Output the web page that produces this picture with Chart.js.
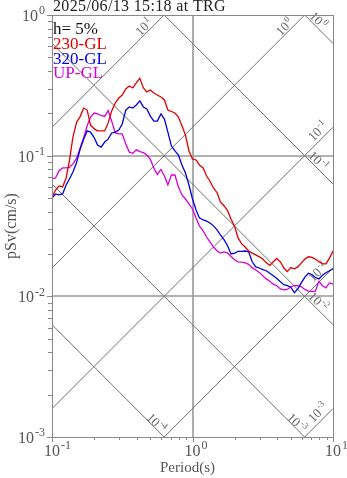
<!DOCTYPE html>
<html>
<head>
<meta charset="utf-8">
<script src="https://cdn.jsdelivr.net/npm/chart.js@4.4.0/dist/chart.umd.min.js"></script>
<style>
  html, body { margin: 0; padding: 0; background: #fff; }
</style>
</head>
<body>
<canvas id="myChart" width="347" height="478"></canvas>
<script>
var titulo = '2025/06/13 15:18 at TRG';
var amortiguamiento = 'h= 5%';
var componentes = ['230-GL', '320-GL', 'UP-GL'];

// periodos (s)
var periods = [0.1, 0.106, 0.112, 0.119, 0.126, 0.133, 0.141, 0.15, 0.158, 0.168,
    0.178, 0.188, 0.2, 0.211, 0.224, 0.237, 0.251, 0.266, 0.282, 0.299,
    0.316, 0.335, 0.355, 0.376, 0.398, 0.422, 0.447, 0.473, 0.501, 0.531,
    0.562, 0.596, 0.631, 0.668, 0.708, 0.75, 0.794, 0.841, 0.891, 0.944,
    1.0, 1.06, 1.12, 1.19, 1.26, 1.33, 1.41, 1.5, 1.58, 1.68,
    1.78, 1.88, 2.0, 2.11, 2.24, 2.37, 2.51, 2.66, 2.82, 2.99,
    3.16, 3.35, 3.55, 3.76, 3.98, 4.22, 4.47, 4.73, 5.01, 5.31,
    5.62, 5.96, 6.31, 6.68, 7.08, 7.5, 7.94, 8.41, 8.91, 9.44, 10];

// pSv (cm/s)
var sv230 = [0.0506, 0.0570, 0.0609, 0.0599, 0.0694, 0.0917, 0.136, 0.174, 0.188, 0.218,
    0.211, 0.165, 0.155, 0.150, 0.150, 0.150, 0.171, 0.208, 0.237, 0.257,
    0.270, 0.298, 0.313, 0.303, 0.329, 0.355, 0.303, 0.284, 0.293, 0.279,
    0.270, 0.261, 0.249, 0.211, 0.206, 0.201, 0.188, 0.163, 0.140, 0.108,
    0.0947, 0.0932, 0.0859, 0.0818, 0.0717, 0.0661, 0.0589, 0.0543, 0.0469, 0.0439,
    0.0405, 0.0355, 0.0311, 0.0260, 0.0236, 0.0224, 0.0210, 0.0203, 0.0197, 0.0191,
    0.0184, 0.0173, 0.0166, 0.0176, 0.0186, 0.0176, 0.0159, 0.0150, 0.0160, 0.0157,
    0.0162, 0.0173, 0.0184, 0.0191, 0.0189, 0.0184, 0.0176, 0.0171, 0.0170, 0.0187, 0.0210];

var sv320 = [0.0500, 0.0534, 0.0526, 0.0534, 0.0619, 0.0683, 0.0766, 0.0902, 0.110, 0.131,
    0.150, 0.147, 0.134, 0.119, 0.115, 0.125, 0.131, 0.145, 0.147, 0.152,
    0.168, 0.211, 0.222, 0.218, 0.229, 0.245, 0.222, 0.215, 0.191, 0.176,
    0.176, 0.198, 0.182, 0.147, 0.117, 0.108, 0.101, 0.0859, 0.0753, 0.0619,
    0.0492, 0.0411, 0.0361, 0.0349, 0.0343, 0.0332, 0.0317, 0.0296, 0.0273, 0.0252,
    0.0228, 0.0200, 0.0203, 0.0209, 0.0209, 0.0210, 0.0207, 0.0176, 0.0162, 0.0159,
    0.0155, 0.0152, 0.0146, 0.0140, 0.0134, 0.0127, 0.0121, 0.0119, 0.0116, 0.0106,
    0.0113, 0.0125, 0.0137, 0.0146, 0.0143, 0.0136, 0.0133, 0.0141, 0.0147, 0.0152, 0.0157];

var svUP = [0.0683, 0.0694, 0.0779, 0.0818, 0.0818, 0.0824, 0.0873, 0.0963, 0.112, 0.134,
    0.163, 0.188, 0.201, 0.198, 0.193, 0.190, 0.209, 0.176, 0.145, 0.143,
    0.143, 0.121, 0.106, 0.104, 0.110, 0.107, 0.105, 0.101, 0.0940, 0.0818,
    0.0735, 0.0798, 0.0717, 0.0619, 0.0729, 0.0729, 0.0599, 0.0526, 0.0492, 0.0454,
    0.0418, 0.0361, 0.0317, 0.0292, 0.0264, 0.0244, 0.0224, 0.0210, 0.0203, 0.0207,
    0.0203, 0.0192, 0.0181, 0.0176, 0.0175, 0.0173, 0.0169, 0.0160, 0.0154, 0.0148,
    0.0140, 0.0133, 0.0128, 0.0122, 0.0119, 0.0113, 0.0111, 0.0112, 0.0117, 0.0119,
    0.0119, 0.0117, 0.0112, 0.0109, 0.0108, 0.0109, 0.0128, 0.0119, 0.0115, 0.0125, 0.0122];

// lineas diagonales: aceleracion (cm/s2) y desplazamiento (cm)
var accLevels = [1e-3, 1e-2, 1e-1, 1, 10];
var dispLevels = [1e-4, 1e-3, 1e-2, 1e-1, 1];
var xTicks = [0.1, 1, 10];
var yTicks = [0.001, 0.01, 0.1, 1];

var colores = ['rgb(225,0,0)', 'rgb(0,0,225)', 'rgb(215,0,215)'];
var serif = '"Liberation Serif", "DejaVu Serif", serif';

grafica = {
    init: function () {
        grafica.generateChart();
    },

    puntos: function (vals) {
        return periods.map(function (t, i) { return {x: t, y: vals[i]}; });
    },

    // "10" con exponente, x/y = inicio y linea base
    pow10: function (ctx, exp, x, y, size) {
        ctx.font = size + 'px ' + serif;
        ctx.fillText('10', x, y);
        var w = ctx.measureText('10').width;
        ctx.font = Math.round(size * 0.72) + 'px ' + serif;
        ctx.fillText(exp, x + w + 1, y - size * 0.42);
    },

    powWidth: function (ctx, exp, size) {
        ctx.font = size + 'px ' + serif;
        var w = ctx.measureText('10').width;
        ctx.font = Math.round(size * 0.72) + 'px ' + serif;
        return w + 1 + ctx.measureText(exp).width;
    },

    drawGrid: function (chart) {
        var ctx = chart.ctx, a = chart.chartArea;
        var xs = chart.scales.x, ys = chart.scales.y;
        ctx.save();
        ctx.beginPath();
        ctx.rect(a.left, a.top, a.right - a.left, a.bottom - a.top);
        ctx.clip();

        ctx.strokeStyle = '#999';
        ctx.lineWidth = 1.6;
        ctx.beginPath();
        var gx = Math.round(xs.getPixelForValue(1));
        ctx.moveTo(gx, a.top); ctx.lineTo(gx, a.bottom);
        [0.1, 0.01].forEach(function (v) {
            var gy = Math.round(ys.getPixelForValue(v));
            ctx.moveTo(a.left, gy); ctx.lineTo(a.right, gy);
        });
        ctx.stroke();

        ctx.strokeStyle = '#6e6e6e';
        ctx.lineWidth = 1;
        ctx.beginPath();
        accLevels.forEach(function (A) {
            ctx.moveTo(xs.getPixelForValue(0.1), ys.getPixelForValue(A * 0.1 / (2 * Math.PI)));
            ctx.lineTo(xs.getPixelForValue(10), ys.getPixelForValue(A * 10 / (2 * Math.PI)));
        });
        dispLevels.forEach(function (D) {
            ctx.moveTo(xs.getPixelForValue(0.1), ys.getPixelForValue(2 * Math.PI * D / 0.1));
            ctx.lineTo(xs.getPixelForValue(10), ys.getPixelForValue(2 * Math.PI * D / 10));
        });
        ctx.stroke();
        ctx.restore();
    },

    drawDiagLabels: function (chart) {
        var ctx = chart.ctx;
        var xs = chart.scales.x, ys = chart.scales.y;
        var back = {top: 20, right: 15, bottom: 8};
        ctx.save();
        ctx.fillStyle = '#666';
        ctx.textBaseline = 'alphabetic';

        var etiqueta = function (level, svAt, tExit, side, ang, shift) {
            var xl = xs.getPixelForValue(tExit) - back[side];
            var yl = ys.getPixelForValue(svAt(xs.getValueForPixel(xl))) - shift;
            var exp = String(Math.round(Math.log10(level)));
            var w = grafica.powWidth(ctx, exp, 13);
            ctx.save();
            ctx.translate(xl, yl);
            ctx.rotate(ang);
            grafica.pow10(ctx, exp, -w / 2, 4, 13);
            ctx.restore();
        };

        accLevels.forEach(function (A) {
            var sv = function (t) { return A * t / (2 * Math.PI); };
            var tTop = 2 * Math.PI / A;
            if (tTop < 10) etiqueta(A, sv, tTop, 'top', -Math.PI / 4, 8);
            else etiqueta(A, sv, 10, 'right', -Math.PI / 4, 11);
        });
        dispLevels.forEach(function (D) {
            var sv = function (t) { return 2 * Math.PI * D / t; };
            var tBot = 2 * Math.PI * D / 0.001;
            if (tBot < 10) etiqueta(D, sv, tBot, 'bottom', Math.PI / 4, 6);
            else etiqueta(D, sv, 10, 'right', Math.PI / 4, 8);
        });
        ctx.restore();
    },

    drawAxes: function (chart) {
        var ctx = chart.ctx, a = chart.chartArea;
        var xs = chart.scales.x, ys = chart.scales.y;
        ctx.save();
        ctx.strokeStyle = '#888';
        ctx.lineWidth = 1;
        ctx.strokeRect(Math.round(a.left) + 0.5, Math.round(a.top) + 0.5,
            Math.round(a.right - a.left), Math.round(a.bottom - a.top));

        // marcas menores y mayores, hacia afuera
        ctx.beginPath();
        [0.1, 1].forEach(function (dec) {
            for (var m = 1; m <= 10; m++) {
                var px = Math.round(xs.getPixelForValue(dec * m)) + 0.5;
                var len = (m == 1 || m == 10) ? 5 : 3;
                ctx.moveTo(px, a.bottom); ctx.lineTo(px, a.bottom + len);
            }
        });
        [0.001, 0.01, 0.1].forEach(function (dec) {
            for (var m = 1; m <= 10; m++) {
                var py = Math.round(ys.getPixelForValue(dec * m)) + 0.5;
                var len = (m == 1 || m == 10) ? 5 : 4;
                ctx.moveTo(a.left - len, py); ctx.lineTo(a.left, py);
            }
        });
        ctx.stroke();

        ctx.fillStyle = '#555';
        xTicks.forEach(function (t) {
            var exp = String(Math.round(Math.log10(t)));
            ctx.font = '16px ' + serif;
            var w10 = ctx.measureText('10').width;
            grafica.pow10(ctx, exp, xs.getPixelForValue(t) - w10 / 2, 456, 16);
        });
        yTicks.forEach(function (v) {
            var exp = String(Math.round(Math.log10(v)));
            var w = grafica.powWidth(ctx, exp, 16);
            grafica.pow10(ctx, exp, 45 - w, ys.getPixelForValue(v) + 6, 16);
        });
        ctx.restore();
    },

    drawTexts: function (chart) {
        var ctx = chart.ctx, a = chart.chartArea;
        ctx.save();
        ctx.fillStyle = '#222';
        ctx.font = '16px ' + serif;
        ctx.letterSpacing = '0.35px';
        ctx.fillText(titulo, 53, 11);
        ctx.letterSpacing = '0px';

        ctx.fillStyle = '#555';
        ctx.font = '15px ' + serif;
        ctx.textAlign = 'center';
        ctx.fillText('Period(s)', (a.left + a.right) / 2 - 5, 472);
        ctx.save();
        ctx.translate(16, 226);
        ctx.rotate(-Math.PI / 2);
        ctx.font = '16px ' + serif;
        ctx.fillText('pSv(cm/s)', 0, 0);
        ctx.restore();

        ctx.textAlign = 'left';
        ctx.font = '17px ' + serif;
        ctx.fillStyle = '#111';
        ctx.fillText(amortiguamiento, 53, 34);
        componentes.forEach(function (c, i) {
            ctx.fillStyle = colores[i];
            ctx.fillText(c, 53, 49 + i * 14.6);
        });
        ctx.restore();
    },

    generateChart: function () {
        var plugin = {
            id: 'tripartita',
            beforeDatasetsDraw: function (chart) {
                grafica.drawGrid(chart);
                grafica.drawDiagLabels(chart);
            },
            afterDraw: function (chart) {
                grafica.drawAxes(chart);
                grafica.drawTexts(chart);
            }
        };
        var series = [sv230, sv320, svUP];
        var ctx = document.getElementById('myChart');
        var myChart = new Chart(ctx, {
            type: 'line',
            data: {
                datasets: series.map(function (s, i) {
                    return {
                        label: componentes[i],
                        data: grafica.puntos(s),
                        borderColor: colores[i],
                        borderWidth: 1.3,
                        pointRadius: 0,
                        fill: false,
                        tension: 0
                    };
                })
            },
            options: {
                responsive: false,
                animation: false,
                devicePixelRatio: 1,
                layout: {padding: {left: 52, right: 14, top: 15, bottom: 41}},
                plugins: {legend: {display: false}, title: {display: false}, tooltip: {enabled: false}},
                scales: {
                    x: {type: 'logarithmic', min: 0.1, max: 10, display: false},
                    y: {type: 'logarithmic', min: 0.001, max: 1, display: false}
                }
            },
            plugins: [plugin]
        });
    }
};

grafica.init();
</script>
</body>
</html>
